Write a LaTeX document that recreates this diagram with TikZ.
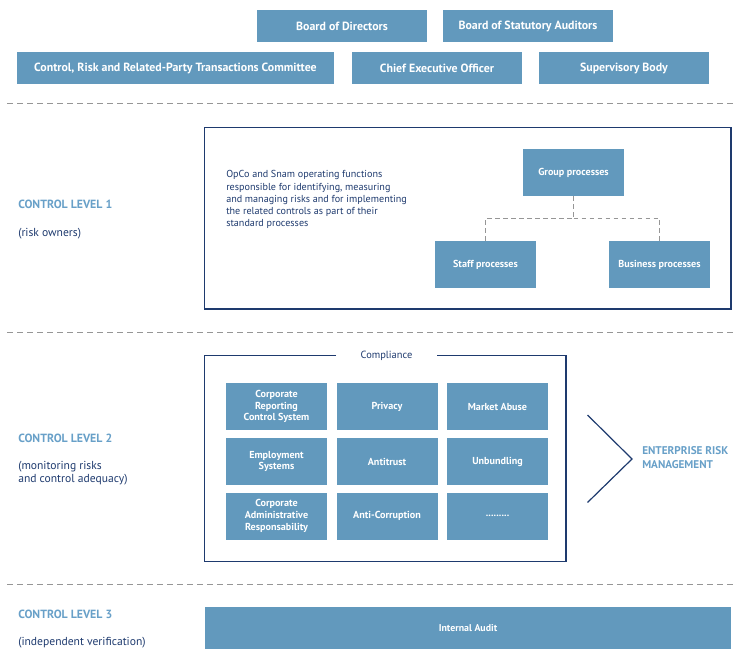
\documentclass[tikz,border=0pt]{standalone}
\usepackage{fontspec}
\setmainfont{PT Sans}
\usepackage{tikz}

\definecolor{boxblue}{RGB}{98,153,189}
\definecolor{navy}{RGB}{30,58,110}
\definecolor{labelblue}{RGB}{104,160,200}
\definecolor{dashgrey}{RGB}{150,150,150}

\tikzset{
  procbox/.style={fill=boxblue, text=white, inner sep=0pt, align=center, minimum width=75.75pt, minimum height=35.25pt, font=\bfseries\fontsize{7.6}{8.9}\selectfont},
  topbox/.style={procbox, minimum width=127.5pt, minimum height=24pt, font=\bfseries\fontsize{8.9}{10}\selectfont},
  levelhead/.style={anchor=base west, inner sep=0pt, text=labelblue, font=\bfseries\fontsize{8.9}{10}\selectfont},
  levelnote/.style={anchor=base west, inner sep=0pt, text=navy, align=left, font=\fontsize{8.7}{10}\selectfont},
  separator/.style={draw=dashgrey, dash pattern=on 4.5pt off 3pt, line width=0.6pt},
  outline/.style={draw=navy, line width=1pt},
  conn/.style={draw=dashgrey, dash pattern=on 3.5pt off 2.5pt, line width=0.75pt},
}

\begin{document}
\begin{tikzpicture}[x=0.75pt,y=0.75pt,yscale=-1,xscale=1]
\useasboundingbox (0,0) rectangle (750,659);

%Governance boxes
\node[topbox] (bod) at (342,26) {Board of Directors};
\node[topbox] (bsa) at (528,26) {Board of Statutory Auditors};
\node[topbox, minimum width=237.75pt] (crc) at (175.5,68) {Control, Risk and Related-Party Transactions Committee};
\node[topbox] (ceo) at (437,68) {Chief Executive Officer};
\node[topbox] (sb) at (624,68) {Supervisory Body};

%Straight Lines
\draw[separator] (7,103.5) -- (735,103.5);
\draw[separator] (7,332.5) -- (735,332.5);
\draw[separator] (7,584.5) -- (735,584.5);

%Level labels (base of a multi-line node is its last line)
\node[levelhead] (lvl1) at (18,209) {CONTROL LEVEL 1};
\node[levelnote] (lvl1note) at (18,236.5) {(risk owners)};
\node[levelhead] (lvl2) at (18,442) {CONTROL LEVEL 2};
\node[levelnote] (lvl2note) at (18,482.5) {(monitoring risks\\and control adequacy)};
\node[levelhead] (lvl3) at (18,618) {CONTROL LEVEL 3};
\node[levelnote] (lvl3note) at (18,645.5) {(independent verification)};

%Shape: Rectangle (level 1)
\draw[outline] (204.5,127.5) rectangle (731,309);
\node[anchor=base west, inner sep=0pt, text=navy, align=left, font=\fontsize{7.6}{9.2}\selectfont] (owners) at (226,227)
  {OpCo and Snam operating functions\\responsible for identifying, measuring\\and managing risks and for implementing\\the related controls as part of their\\standard processes};
\node[procbox] (grp) at (573.5,172.5) {Group processes};
\node[procbox] (staff) at (485.5,264.5) {Staff processes};
\node[procbox] (biz) at (659.5,264.5) {Business processes};
\draw[conn] (grp.south) -- ++(0,22) coordinate (fork) -| (staff.north);
\draw[conn] (fork) -| (biz.north);

%Shape: Rectangle (level 2)
\draw[outline] (336,355.5) -- (204.5,355.5) -- (204.5,561.5) -- (566,561.5) -- (566,355.5) -- (437,355.5);
\node[anchor=base, inner sep=0pt, text=navy, font=\fontsize{7.8}{9}\selectfont] (compl) at (386.5,358.5) {Compliance};
\node[procbox] (crcs) at (276.5,406.5) {Corporate\\Reporting\\Control System};
\node[procbox] (priv) at (387,406.5) {Privacy};
\node[procbox] (mabuse) at (497.5,406.5) {Market Abuse};
\node[procbox] (empl) at (276.5,461.5) {Employment\\Systems};
\node[procbox] (antitr) at (387,461.5) {Antitrust};
\node[procbox] (unbund) at (497.5,461.5) {Unbundling};
\node[procbox] (car) at (276.5,516) {Corporate\\Administrative\\Responsability};
\node[procbox] (anticorr) at (387,516) {Anti-Corruption};
\node[procbox] (etc) at (497.5,516) {.........};

%Straight Lines (chevron)
\draw[navy, line width=0.9pt] (587.5,415) -- (632,459) -- (587.5,502.5);
\node[anchor=base west, inner sep=0pt, text=labelblue, align=left, font=\bfseries\fontsize{8.4}{10.5}\selectfont] (erm) at (642,468) {ENTERPRISE RISK\\MANAGEMENT};

%Shape: Rectangle (level 3)
\node[procbox, minimum width=394.5pt, minimum height=31.5pt, font=\bfseries\fontsize{7.4}{9}\selectfont] (audit) at (468,628) {Internal Audit};

\end{tikzpicture}
\end{document}
